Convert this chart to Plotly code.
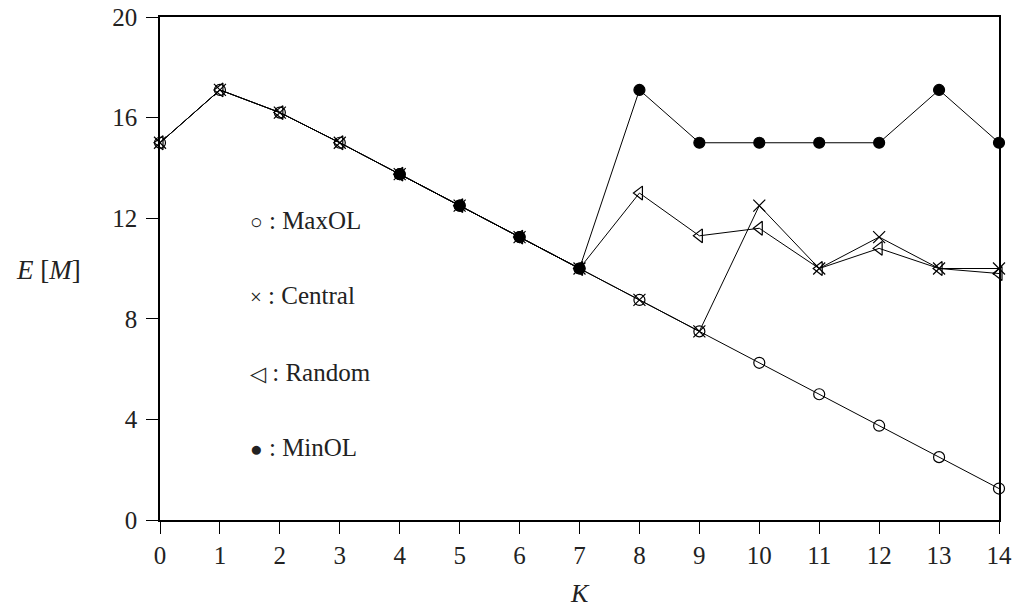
import plotly.graph_objects as go

K = list(range(15))
maxol = [15, 17.1, 16.2, 15, 13.75, 12.5, 11.25, 10, 8.75, 7.5, 6.25, 5, 3.75, 2.5, 1.25]
central = [15, 17.1, 16.2, 15, 13.75, 12.5, 11.25, 10, 8.75, 7.5, 12.5, 10, 11.25, 10, 10]
random_ = [15, 17.1, 16.2, 15, 13.75, 12.5, 11.25, 10, 13, 11.3, 11.6, 10, 10.8, 10, 9.8]
minol = [None, None, None, None, 13.75, 12.5, 11.25, 10, 17.1, 15, 15, 15, 15, 17.1, 15]

y_ticks = [0, 4, 8, 12, 16, 20]
x_ticks = list(range(15))
legend_labels = ["MaxOL", "Central", "Random", "MinOL"]
legend_glyphs = ["○", "×", "◁", "●"]

FONT = "Liberation Serif"

fig = go.Figure()
series = [
    (maxol, "circle-open", 11),
    (central, "x-thin-open", 12),
    (random_, "triangle-left-open", 12),
    (minol, "circle", 11),
]
for vals, sym, sz in series:
    fig.add_trace(go.Scatter(
        x=K, y=vals, mode="lines+markers",
        line=dict(color="black", width=1),
        marker=dict(symbol=sym, size=sz, color="black",
                    line=dict(color="black", width=1.2)),
        showlegend=False, connectgaps=False, cliponaxis=False,
    ))

fig.update_layout(
    width=1017, height=613,
    margin=dict(l=160, r=18, t=17, b=93, autoexpand=False),
    paper_bgcolor="white", plot_bgcolor="white",
    font=dict(family=FONT, size=25, color="#222"),
)
fig.update_xaxes(
    range=[0, 14], tickvals=x_ticks, ticks="outside", ticklen=12,
    tickwidth=1.3, tickcolor="black", showline=True, linecolor="black",
    linewidth=1.5, mirror=True, showgrid=False, zeroline=False,
    tickfont=dict(family=FONT, size=25, color="#222"), automargin=False,
    ticklabeloverflow="allow",
)
fig.update_yaxes(
    range=[0, 20], tickvals=y_ticks, ticks="outside", ticklen=12,
    tickwidth=1.3, tickcolor="black", showline=True, linecolor="black",
    linewidth=1.5, mirror=True, showgrid=False, zeroline=False,
    tickfont=dict(family=FONT, size=25, color="#222"),
    ticklabelstandoff=4, automargin=False, ticklabeloverflow="allow",
)

# legend as text annotations
ys = [0.596, 0.447, 0.294, 0.145]
for lab, g, yy in zip(legend_labels, legend_glyphs, ys):
    fig.add_annotation(
        xref="paper", yref="paper", x=0.105, y=yy, xanchor="left", yanchor="middle",
        text=f"<span style='font-size:21px'>{g}</span> : {lab}", showarrow=False,
        font=dict(family=FONT, size=25, color="#222"),
    )

# axis titles
fig.add_annotation(xref="paper", yref="paper", x=-(160 - 48) / 839, y=(520 - 270) / 503,
                   xanchor="center", yanchor="middle", showarrow=False,
                   text="<i>E</i> [<i>M</i>]", font=dict(family=FONT, size=27, color="#222"))
fig.add_annotation(xref="paper", yref="paper", x=(580 - 160) / 839, y=-(593 - 520) / 503,
                   xanchor="center", yanchor="middle", showarrow=False,
                   text="<i>K</i>", font=dict(family=FONT, size=26, color="#222"))

fig.write_html("out.html",
               config={"displayModeBar": False},
               post_script="document.body.style.margin='0';document.body.style.overflow='hidden';")
